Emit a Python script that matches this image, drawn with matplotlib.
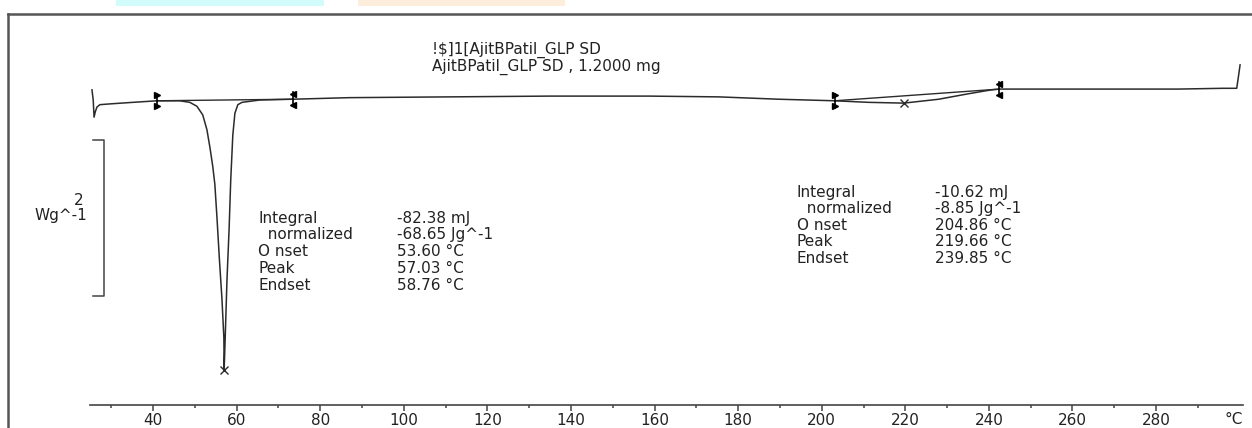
import matplotlib.pyplot as plt
from matplotlib.lines import Line2D
from matplotlib.patches import Rectangle

# DSC curve (temperature in degC, heat flow in W/g, baseline ~0)
temps = [25.4, 25.7, 25.9, 26.2, 26.6, 27.3, 29.7, 35.2, 41.0, 46.4, 48.8, 50.5,
         51.9, 52.9, 53.6, 54.3, 54.8, 55.3, 55.9, 56.5, 56.96, 57.03, 57.3, 57.7,
         58.2, 58.6, 59.1, 59.6, 60.3, 61.3, 65.6, 73.4, 87.0, 110.9, 134.8, 158.7,
         175.4, 189.7, 203.1, 211.2, 219.66, 228.0, 235.1, 240.6, 242.7, 254.2,
         266.1, 285.3, 296.0, 299.3, 299.6, 300.1]
heat_flow = [0.13, 0.0, -0.22, -0.15, -0.09, -0.06, -0.05, -0.03, -0.01, -0.01, -0.03, -0.08,
             -0.19, -0.38, -0.60, -0.85, -1.08, -1.50, -2.05, -2.55, -3.05, -3.46, -3.01, -2.31,
             -1.67, -1.03, -0.45, -0.17, -0.06, -0.03, 0.0, 0.01, 0.03, 0.04, 0.05, 0.05,
             0.04, 0.01, -0.01, -0.03, -0.04, 0.01, 0.08, 0.13, 0.14, 0.14,
             0.14, 0.14, 0.15, 0.15, 0.26, 0.45]

# integration limits and peaks
limits_1 = [41.0, 73.4]
limits_2 = [203.1, 242.5]
base_1 = [-0.01, 0.01]
base_2 = [-0.01, 0.14]
peaks_t = [57.03, 219.66]
peaks_v = [-3.46, -0.04]

ticks_major = list(range(40, 281, 20))
ticks_minor = list(range(30, 291, 20))

rows = ['Integral', '  normalized', 'O nset', 'Peak', 'Endset']
vals_1 = ['-82.38 mJ', '-68.65 Jg^-1', '53.60 \u00b0C', '57.03 \u00b0C', '58.76 \u00b0C']
vals_2 = ['-10.62 mJ', '-8.85 Jg^-1', '204.86 \u00b0C', '219.66 \u00b0C', '239.85 \u00b0C']

title_1 = '!$]1[AjitBPatil_GLP SD'
title_2 = 'AjitBPatil_GLP SD , 1.2000 mg'

W, H = 1252, 428
fig = plt.figure(figsize=(W / 100, H / 100), dpi=100)


def px(x, y):
    return x / W, 1 - y / H


ink = '#2b2b2b'
txt = '#222222'
fs = 11
axis_y = 405
ax = fig.add_axes([90 / W, (H - axis_y) / H, (1243 - 90) / W, (axis_y - 14) / H])
ax.set_xlim(24.93, 300.8)
ax.set_ylim(-(axis_y - 100) / 78, (100 - 14) / 78)
for s in ['top', 'left', 'right']:
    ax.spines[s].set_visible(False)
ax.spines['bottom'].set_color('#444444')
ax.spines['bottom'].set_linewidth(1.2)
ax.set_yticks([])
ax.set_xticks(ticks_major)
ax.set_xticks(ticks_minor, minor=True)
ax.tick_params(axis='x', which='major', direction='out', length=4.5, width=1.1,
               color='#444444', labelsize=fs, pad=1.5, labelcolor=txt)
ax.tick_params(axis='x', which='minor', direction='out', length=2.5, width=1.1, color='#444444')
ax.patch.set_alpha(0)

ax.plot(temps, heat_flow, color=ink, lw=1.1, clip_on=False)
ax.plot(limits_1, base_1, color=ink, lw=1.0)
ax.plot(limits_2, base_2, color=ink, lw=1.0)
ax.plot(peaks_t, peaks_v, ls='none', marker='x', ms=6, mew=1.0, color=ink, clip_on=False)

# integration limit flags
for lims, bases in [(limits_1, base_1), (limits_2, base_2)]:
    for t, b, m in zip(lims, bases, ['>', '<']):
        ax.plot([t, t], [b - 0.09, b + 0.09], color='black', lw=1.2)
        ax.plot([t, t], [b - 0.07, b + 0.07], ls='none', marker=m, ms=4.5, color='black')

# scale bar: 2 W/g
bar_x, bar_top, bar_size = 28.3, -0.51, 2
ax.plot([25.7, bar_x, bar_x, 25.7], [bar_top, bar_top, bar_top - bar_size, bar_top - bar_size],
        color='#444444', lw=1.1, clip_on=False)
fig.text(*px(79, 200), str(bar_size), ha='center', va='center', fontsize=fs, color=txt)
fig.text(*px(87, 216), 'Wg^-1', ha='right', va='center', fontsize=fs, color=txt)

fig.text(*px(1234, 419), '\u00b0C', ha='center', va='center', fontsize=fs, color=txt)

fig.text(*px(432, 50), title_1, ha='left', va='center', fontsize=fs, color=txt)
fig.text(*px(432, 67), title_2, ha='left', va='center', fontsize=fs, color=txt)

for i, (r, v) in enumerate(zip(rows, vals_1)):
    fig.text(*px(258, 218 + 16.8 * i), r, ha='left', va='center', fontsize=fs, color=txt)
    fig.text(*px(397, 218 + 16.8 * i), v, ha='left', va='center', fontsize=fs, color=txt)
for i, (r, v) in enumerate(zip(rows, vals_2)):
    fig.text(*px(797, 192 + 16.6 * i), r, ha='left', va='center', fontsize=fs, color=txt)
    fig.text(*px(935, 192 + 16.6 * i), v, ha='left', va='center', fontsize=fs, color=txt)

# frame and the coloured strips at the top edge
fig.add_artist(Line2D([8 / W, 1], [1 - 14 / H] * 2, color='#555555', lw=1.8))
fig.add_artist(Line2D([8 / W] * 2, [0, 1 - 14 / H], color='#555555', lw=1.8))
fig.add_artist(Rectangle(px(116, 6), 208 / W, 6 / H, color='#d2fbfb', lw=0))
fig.add_artist(Rectangle(px(358, 6), 207 / W, 6 / H, color='#fdeddc', lw=0))

fig.savefig('out.png', dpi=100)
